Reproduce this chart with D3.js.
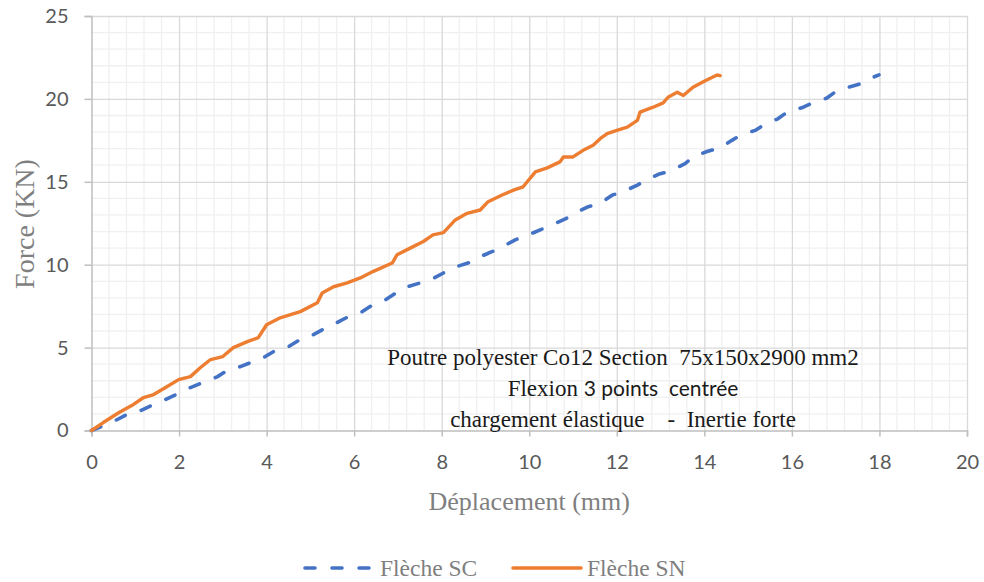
<!DOCTYPE html>
<html><head><meta charset="utf-8">
<script src="https://cdn.jsdelivr.net/npm/d3@7"></script>
<style>
body{margin:0;background:#fff;}
svg{display:block;}
</style></head>
<body>
<svg id="chart" width="984" height="582"></svg>
<script>
// Flèche SC (dashed blue)
const scX = [0,0.5,0.89,1.07,1.42,1.69,2.03,2.26,2.6,2.88,3.13,3.4,3.7,3.97,4.27,4.5,4.84,5.07,5.41,5.57,5.87,6.14,6.44,6.67,6.9,7.12,7.51,7.79,8.04,8.36,8.6,8.81,9.16,9.4,9.68,9.98,10.25,10.52,10.85,11.0,11.35,11.62,11.9,12.14,12.47,12.67,12.95,13.26,13.56,13.74,14.06,14.36,14.63,14.82,15.16,15.34,15.68,15.89,16.26,16.48,16.8,16.98,17.28,17.55,17.85,17.99];
const scY = [0,0.54,1.08,1.14,1.57,1.87,2.29,2.59,2.95,3.25,3.67,3.85,4.16,4.46,4.94,5.06,5.6,5.78,6.27,6.45,6.87,7.1,7.6,7.8,8.2,8.6,8.9,9.15,9.5,9.9,10.1,10.4,10.8,11.1,11.5,11.8,12.1,12.4,12.8,13.05,13.5,13.7,14.2,14.4,14.8,15.1,15.45,15.68,16.1,16.5,16.83,17.05,17.5,17.8,18.1,18.4,18.8,19.2,19.5,19.76,20.05,20.4,20.7,20.9,21.3,21.45];
// Flèche SN (solid orange)
const snX = [0,0.27,0.62,0.96,1.19,1.42,1.73,1.99,2.26,2.49,2.72,3.0,3.24,3.56,3.81,4.0,4.31,4.77,5.16,5.27,5.53,5.84,6.14,6.44,6.87,6.98,7.28,7.58,7.8,8.04,8.31,8.58,8.88,9.06,9.38,9.64,9.86,10.14,10.41,10.7,10.78,11.0,11.23,11.46,11.62,11.78,12.0,12.24,12.47,12.53,12.83,13.06,13.17,13.38,13.52,13.74,14.02,14.29,14.36];
const snY = [0,0.48,1.07,1.57,1.99,2.17,2.65,3.07,3.25,3.8,4.28,4.46,5.0,5.36,5.6,6.38,6.8,7.17,7.7,8.3,8.67,8.9,9.2,9.6,10.1,10.6,11.0,11.4,11.8,11.93,12.7,13.1,13.3,13.8,14.2,14.5,14.7,15.6,15.84,16.2,16.5,16.5,16.9,17.2,17.6,17.9,18.1,18.3,18.7,19.2,19.5,19.76,20.1,20.4,20.2,20.7,21.1,21.44,21.4];
const xTicks = [0,2,4,6,8,10,12,14,16,18,20];
const yTicks = [0,5,10,15,20,25];
const seriesNames = ["Flèche SC","Flèche SN"];
const seriesColors = ["#4472C4","#ED7D31"];
const xTitle = "Déplacement (mm)";
const yTitle = "Force (KN)";
const noteLines = ["Poutre polyester Co12 Section  75x150x2900 mm2", "Flexion", "3 points  centrée", "chargement élastique    -  Inertie forte"];

const svg = d3.select("#chart");
const x = d3.scaleLinear().domain([0,20]).range([91.5,967]);
const y = d3.scaleLinear().domain([0,25]).range([430.5,16]);
const sans = "Lato, 'Open Sans', sans-serif";
const serif = "'Liberation Serif', 'Times New Roman', serif";
const nb = s => s.replace(/ /g,"\u00a0");

// minor grid
const xMinor = d3.range(0,20.001,0.4).filter(v=>Math.abs(v/2-Math.round(v/2))>1e-6);
const yMinor = d3.range(0,25.001,1).filter(v=>v%5!==0);
svg.append("g").selectAll("line").data(xMinor).join("line")
  .attr("x1",d=>x(d)).attr("x2",d=>x(d)).attr("y1",y(0)).attr("y2",y(25))
  .attr("stroke","#f0f0f0").attr("stroke-width",1.3);
svg.append("g").selectAll("line").data(yMinor).join("line")
  .attr("x1",x(0)).attr("x2",x(20)).attr("y1",d=>y(d)).attr("y2",d=>y(d))
  .attr("stroke","#f0f0f0").attr("stroke-width",1.3);

// major grid
const gxg = svg.append("g").attr("transform",`translate(0,${y(0)})`)
  .call(d3.axisBottom(x).tickValues(xTicks.slice(1)).tickSize(-(y(0)-y(25))).tickFormat(""));
gxg.select(".domain").remove();
gxg.selectAll("line").attr("stroke","#d9d9d9").attr("stroke-width",1.3);
const gyg = svg.append("g").attr("transform",`translate(${x(0)},0)`)
  .call(d3.axisLeft(y).tickValues(yTicks.slice(1)).tickSize(-(x(20)-x(0))).tickFormat(""));
gyg.select(".domain").remove();
gyg.selectAll("line").attr("stroke","#d9d9d9").attr("stroke-width",1.3);

// axes
const gx = svg.append("g").attr("transform",`translate(0,${y(0)})`)
  .call(d3.axisBottom(x).tickValues(xTicks).tickSize(6).tickPadding(18).tickFormat(d3.format("d")));
const gy = svg.append("g").attr("transform",`translate(${x(0)},0)`)
  .call(d3.axisLeft(y).tickValues(yTicks).tickSize(7).tickPadding(16).tickFormat(d3.format("d")));
[gx,gy].forEach(g=>{
  g.select(".domain").attr("stroke","#bfbfbf").attr("stroke-width",1.5);
  g.selectAll(".tick line").attr("stroke","#bfbfbf").attr("stroke-width",1.5);
  g.selectAll("text").attr("fill","#595959").style("font-family",sans).style("font-size","20px");
});

// lines
const line = d3.line().x(d=>x(d[0])).y(d=>y(d[1]));
const scData = scX.map((v,i)=>[v,scY[i]]);
const snData = snX.map((v,i)=>[v,snY[i]]);
svg.append("path").datum(scData).attr("d",line).attr("fill","none")
  .attr("stroke",seriesColors[0]).attr("stroke-width",3.6)
  .attr("stroke-dasharray","10 17").attr("stroke-linecap","round").attr("stroke-linejoin","round");
svg.append("path").datum(snData).attr("d",line).attr("fill","none")
  .attr("stroke",seriesColors[1]).attr("stroke-width",3.4)
  .attr("stroke-linejoin","round").attr("stroke-linecap","round");

// annotation
const cx = 623;
const note = svg.append("text").attr("text-anchor","middle").attr("fill","#1a1a1a")
  .style("font-family",serif).style("font-size","23px");
note.append("tspan").attr("x",cx).attr("y",365).text(nb(noteLines[0]));
const l2 = note.append("tspan").attr("x",cx).attr("y",396);
l2.append("tspan").text(nb(noteLines[1] + " "));
l2.append("tspan").style("font-family",sans).style("font-size","21px").text(nb(noteLines[2]));
note.append("tspan").attr("x",cx).attr("y",427).text(nb(noteLines[3]));

// axis titles
svg.append("text").attr("x",(x(0)+x(20))/2).attr("y",510).attr("text-anchor","middle")
  .attr("fill","#7f7f7f").style("font-family",serif).style("font-size","26px").text(xTitle);
svg.append("text").attr("transform",`translate(34,224) rotate(-90)`).attr("text-anchor","middle")
  .attr("fill","#7f7f7f").style("font-family",serif).style("font-size","28px").text(yTitle);

// legend
const leg = [{x0:305,x1:373,tx:380},{x0:513,x1:581,tx:587}];
leg.forEach((l,i)=>{
  svg.append("line").attr("x1",l.x0).attr("x2",l.x1).attr("y1",568).attr("y2",568)
    .attr("stroke",seriesColors[i]).attr("stroke-width",3.6).attr("stroke-linecap","round")
    .attr("stroke-dasharray", i===0 ? "10 17" : null);
  svg.append("text").attr("x",l.tx).attr("y",576).attr("fill","#7f7f7f")
    .style("font-family",serif).style("font-size","23.5px").text(seriesNames[i]);
});
</script>
</body></html>
